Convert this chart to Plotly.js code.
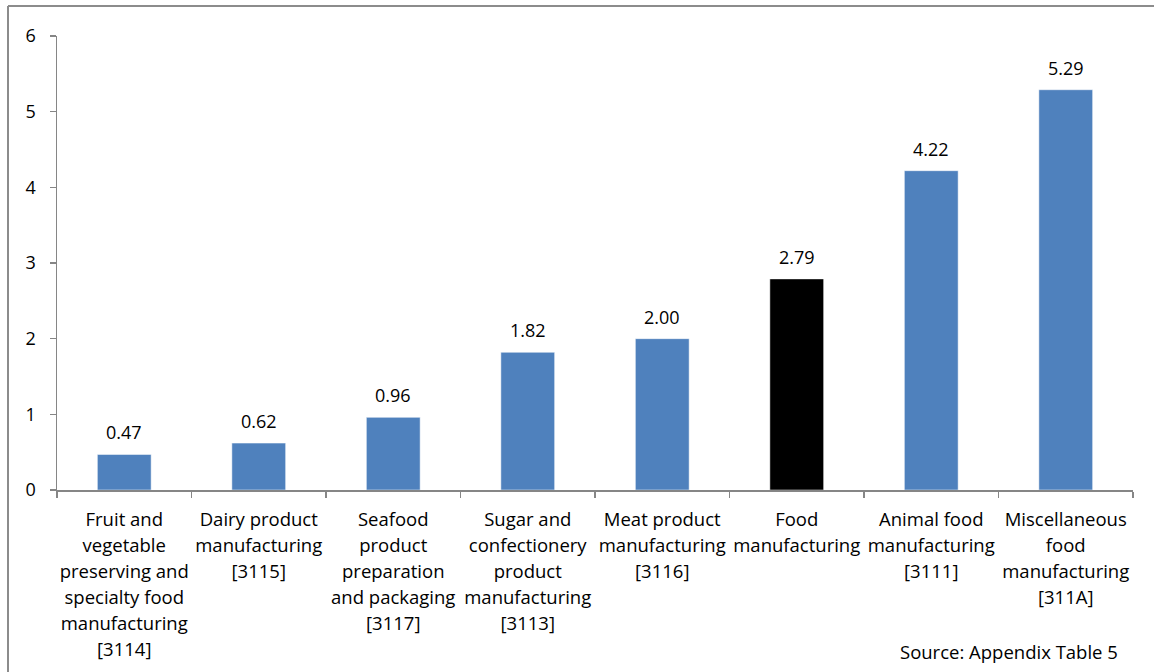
<!DOCTYPE html>
<html>
<head>
<meta charset="utf-8">
<script src="https://cdn.plot.ly/plotly-3.0.1.min.js"></script>
<style>
html,body{margin:0;padding:0;background:#fff;}
#chart{width:1154px;height:672px;}
</style>
</head>
<body>
<div id="chart"></div>
<script>
const categories = ["Fruit & vegetable", "Dairy", "Seafood", "Sugar & confectionery", "Meat", "Food", "Animal food", "Miscellaneous"];
const tickLabels = [
  "Fruit and<br>vegetable<br>preserving and<br>specialty food<br>manufacturing<br>[3114]",
  "Dairy product<br>manufacturing<br>[3115]",
  "Seafood<br>product<br>preparation<br>and packaging<br>[3117]",
  "Sugar and<br>confectionery<br>product<br>manufacturing<br>[3113]",
  "Meat product<br>manufacturing<br>[3116]",
  "Food<br>manufacturing",
  "Animal food<br>manufacturing<br>[3111]",
  "Miscellaneous<br>food<br>manufacturing<br>[311A]"
];
const values = [0.47, 0.62, 0.96, 1.82, 2.00, 2.79, 4.22, 5.29];
const barColors = ["#4F81BD", "#4F81BD", "#4F81BD", "#4F81BD", "#4F81BD", "#000000", "#4F81BD", "#4F81BD"];
const yTicks = [0, 1, 2, 3, 4, 5, 6];
const sourceText = "Source: Appendix Table 5";

const FONT = "Open Sans, Liberation Sans, sans-serif";

// wrap each line in a smaller span so the line spacing follows the larger tick font size
const styledTicks = tickLabels.map(t => t.split("<br>").map(s => '<span style="font-size:18.5px">' + s + '</span>').join("<br>"));

const trace = {
  type: "bar",
  x: categories,
  y: values,
  marker: {color: barColors, line: {color: "#ffffff", width: 0.5}},
  hoverinfo: "none"
};

const annotations = categories.map((c, i) => ({
  x: c, y: values[i], xref: "x", yref: "y",
  text: values[i].toFixed(2),
  showarrow: false, yanchor: "bottom", yshift: 8,
  font: {family: FONT, size: 18, color: "#000"}
}));
annotations.push({
  xref: "paper", yref: "paper", x: 0.988, y: -0.355,
  xanchor: "right", yanchor: "middle",
  text: sourceText, showarrow: false,
  font: {family: FONT, size: 18.5, color: "#000"}
});

const layout = {
  width: 1154, height: 672,
  margin: {l: 57, r: 21, t: 36, b: 182},
  paper_bgcolor: "#fff", plot_bgcolor: "#fff",
  showlegend: false,
  bargap: 0.6,
  font: {family: FONT, size: 18, color: "#000"},
  xaxis: {
    type: "category",
    tickmode: "array", tickvals: categories, ticktext: styledTicks,
    tickson: "boundaries", ticks: "outside", ticklen: 6, tickcolor: "#868686", tickwidth: 1.5,
    showline: true, linecolor: "#868686", linewidth: 1.5,
    showgrid: false, zeroline: false, tickangle: 0,
    ticklabelstandoff: 10,
    tickfont: {family: FONT, size: 20, color: "#000"},
    fixedrange: true
  },
  yaxis: {
    range: [0, 6], tickmode: "array", tickvals: yTicks,
    ticks: "outside", ticklen: 6, tickcolor: "#868686", tickwidth: 1.5,
    showline: true, linecolor: "#868686", linewidth: 1.5,
    showgrid: false, zeroline: false,
    ticklabelstandoff: 10,
    tickfont: {family: FONT, size: 18, color: "#000"},
    fixedrange: true
  },
  shapes: [
    {type: "line", xref: "paper", yref: "paper",
     x0: (8 - 57) / 1076, x1: (1160 - 57) / 1076,
     y0: 1 + (36 - 6) / 454, y1: 1 + (36 - 6) / 454,
     line: {color: "#8c8c8c", width: 2}},
    {type: "line", xref: "paper", yref: "paper",
     x0: (8 - 57) / 1076, x1: (8 - 57) / 1076,
     y0: 1 + (36 - 6) / 454, y1: -(680 - 490) / 454,
     line: {color: "#8c8c8c", width: 2}}
  ],
  annotations: annotations
};

Plotly.newPlot("chart", [trace], layout, {displayModeBar: false, staticPlot: true});
</script>
</body>
</html>
